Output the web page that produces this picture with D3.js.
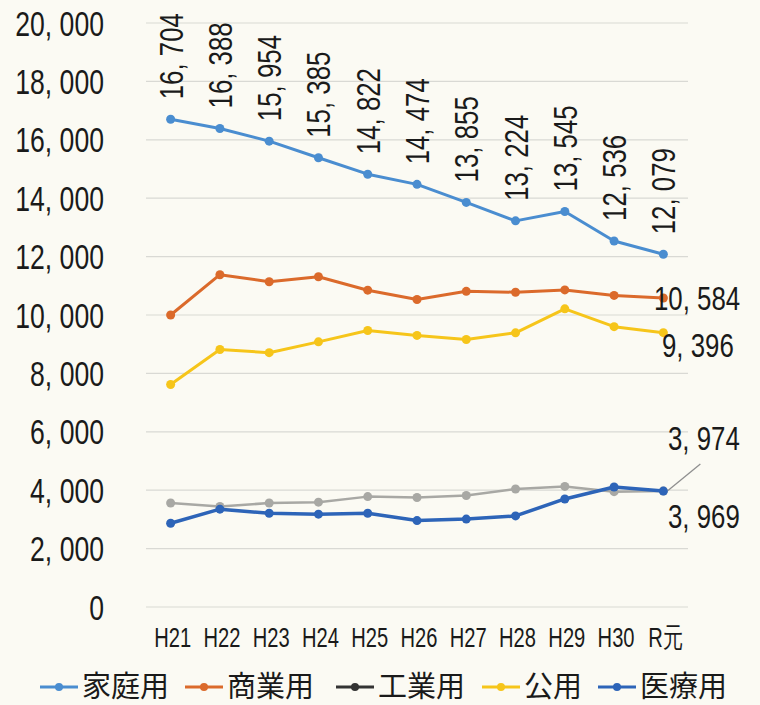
<!DOCTYPE html>
<html>
<head>
<meta charset="utf-8">
<script src="https://cdn.jsdelivr.net/npm/d3@7"></script>
<style>
  body { margin: 0; background: #fbfaf3; }
  svg { display: block; }
  .num { font-family: "Liberation Sans", Arial, sans-serif; fill: #1a1a1a; }
  .leg { font-family: "Noto Sans CJK JP", sans-serif; fill: #1a1a1a; }
</style>
</head>
<body>
<svg id="chart" width="760" height="705"></svg>
<script>
const categories = ['H21', 'H22', 'H23', 'H24', 'H25', 'H26', 'H27', 'H28', 'H29', 'H30', 'R元'];
const yTicks = [0, 2000, 4000, 6000, 8000, 10000, 12000, 14000, 16000, 18000, 20000];

const katei   = [16704, 16388, 15954, 15385, 14822, 14474, 13855, 13224, 13545, 12536, 12079];
const shogyo  = [10000, 11380, 11140, 11310, 10850, 10530, 10810, 10780, 10860, 10670, 10584];
const kogyo   = [3560, 3440, 3560, 3590, 3780, 3750, 3820, 4040, 4130, 3950, 3974];
const koyo    = [7620, 8820, 8710, 9080, 9470, 9300, 9160, 9390, 10210, 9600, 9396];
const iryo    = [2870, 3350, 3210, 3180, 3210, 2960, 3010, 3120, 3700, 4110, 3969];

const seriesNames = ['家庭用', '商業用', '工業用', '公用', '医療用'];
const seriesData = [katei, shogyo, kogyo, koyo, iryo];
const seriesColors = ['#4a8dd0', '#db6a2b', '#a8a8a4', '#f6c51a', '#2d64b8'];
const legendColors = ['#4a8dd0', '#db6a2b', '#333333', '#f6c51a', '#2d64b8'];
const lineWidths = [3, 3, 2.5, 3, 3.5];

// japanese style "16, 704"
const fmt = v => d3.format(',')(v).replace(/,/g, ', ');

const svg = d3.select('#chart');
const plotL = 146, plotR = 688, plotT = 23, plotB = 607;
const squeeze = 0.76; // the numbers in the original are a condensed face

const x = d3.scalePoint().domain(categories).range([plotL, plotR]).padding(0.5);
const y = d3.scaleLinear().domain([0, 20000]).range([plotB, plotT]);

// gridlines
svg.append('g').selectAll('line').data(yTicks).join('line')
  .attr('x1', plotL).attr('x2', plotR)
  .attr('y1', d => y(d)).attr('y2', d => y(d))
  .attr('stroke', '#d9d9d4').attr('stroke-width', 1.2);

// y tick labels
svg.append('g').selectAll('text').data(yTicks).join('text')
  .attr('class', 'num')
  .attr('transform', d => `translate(104,${y(d)}) scale(${squeeze},1)`)
  .attr('text-anchor', 'end').attr('dy', '0.36em')
  .attr('font-size', 35)
  .text(d => fmt(d));

// x labels
svg.append('g').selectAll('text').data(categories).join('text')
  .attr('class', 'num')
  .attr('transform', d => `translate(${x(d) + 2},647) scale(0.72,1)`)
  .attr('text-anchor', 'middle')
  .attr('font-size', 28)
  .text(d => d);

// leader line for the 3,974 label
svg.append('line')
  .attr('x1', x('R元') + 4).attr('y1', y(kogyo[10]))
  .attr('x2', x('R元') + 37).attr('y2', y(kogyo[10]) - 27)
  .attr('stroke', '#8f8f8f').attr('stroke-width', 1.3);

const line = d3.line().x((d, i) => x(categories[i])).y(d => y(d));
const drawOrder = [2, 3, 1, 0, 4];
drawOrder.forEach(s => {
  const g = svg.append('g');
  g.append('path').datum(seriesData[s])
    .attr('d', line).attr('fill', 'none')
    .attr('stroke', seriesColors[s]).attr('stroke-width', lineWidths[s])
    .attr('stroke-linejoin', 'round');
  g.selectAll('circle').data(seriesData[s]).join('circle')
    .attr('cx', (d, i) => x(categories[i])).attr('cy', d => y(d))
    .attr('r', 4.5).attr('fill', seriesColors[s]);
});

// rotated labels for 家庭用
svg.append('g').selectAll('text').data(katei).join('text')
  .attr('class', 'num')
  .attr('transform', (d, i) => `translate(${x(categories[i]) + 12},${y(d) - 20}) rotate(-90) scale(${squeeze},1)`)
  .attr('font-size', 34)
  .text(d => fmt(d));

// end labels
const endLabels = [
  { v: shogyo[10], xx: 654, yy: 310 },
  { v: koyo[10], xx: 662, yy: 357 },
  { v: kogyo[10], xx: 668, yy: 450 },
  { v: iryo[10], xx: 668, yy: 528 }
];
svg.append('g').selectAll('text').data(endLabels).join('text')
  .attr('class', 'num')
  .attr('transform', d => `translate(${d.xx},${d.yy}) scale(${squeeze},1)`)
  .attr('font-size', 34)
  .text(d => fmt(d.v));

// legend
const legX = [40, 185, 336, 482, 598];
const leg = svg.append('g');
seriesNames.forEach((name, i) => {
  const g = leg.append('g').attr('transform', `translate(${legX[i]},687)`);
  g.append('line').attr('x1', 0).attr('x2', 38).attr('y1', 0).attr('y2', 0)
    .attr('stroke', legendColors[i]).attr('stroke-width', 3);
  g.append('circle').attr('cx', 19).attr('cy', 0).attr('r', 4).attr('fill', legendColors[i]);
  g.append('text').attr('class', 'leg')
    .attr('x', 42).attr('y', 10)
    .attr('font-size', 29)
    .text(name);
});
</script>
</body>
</html>
